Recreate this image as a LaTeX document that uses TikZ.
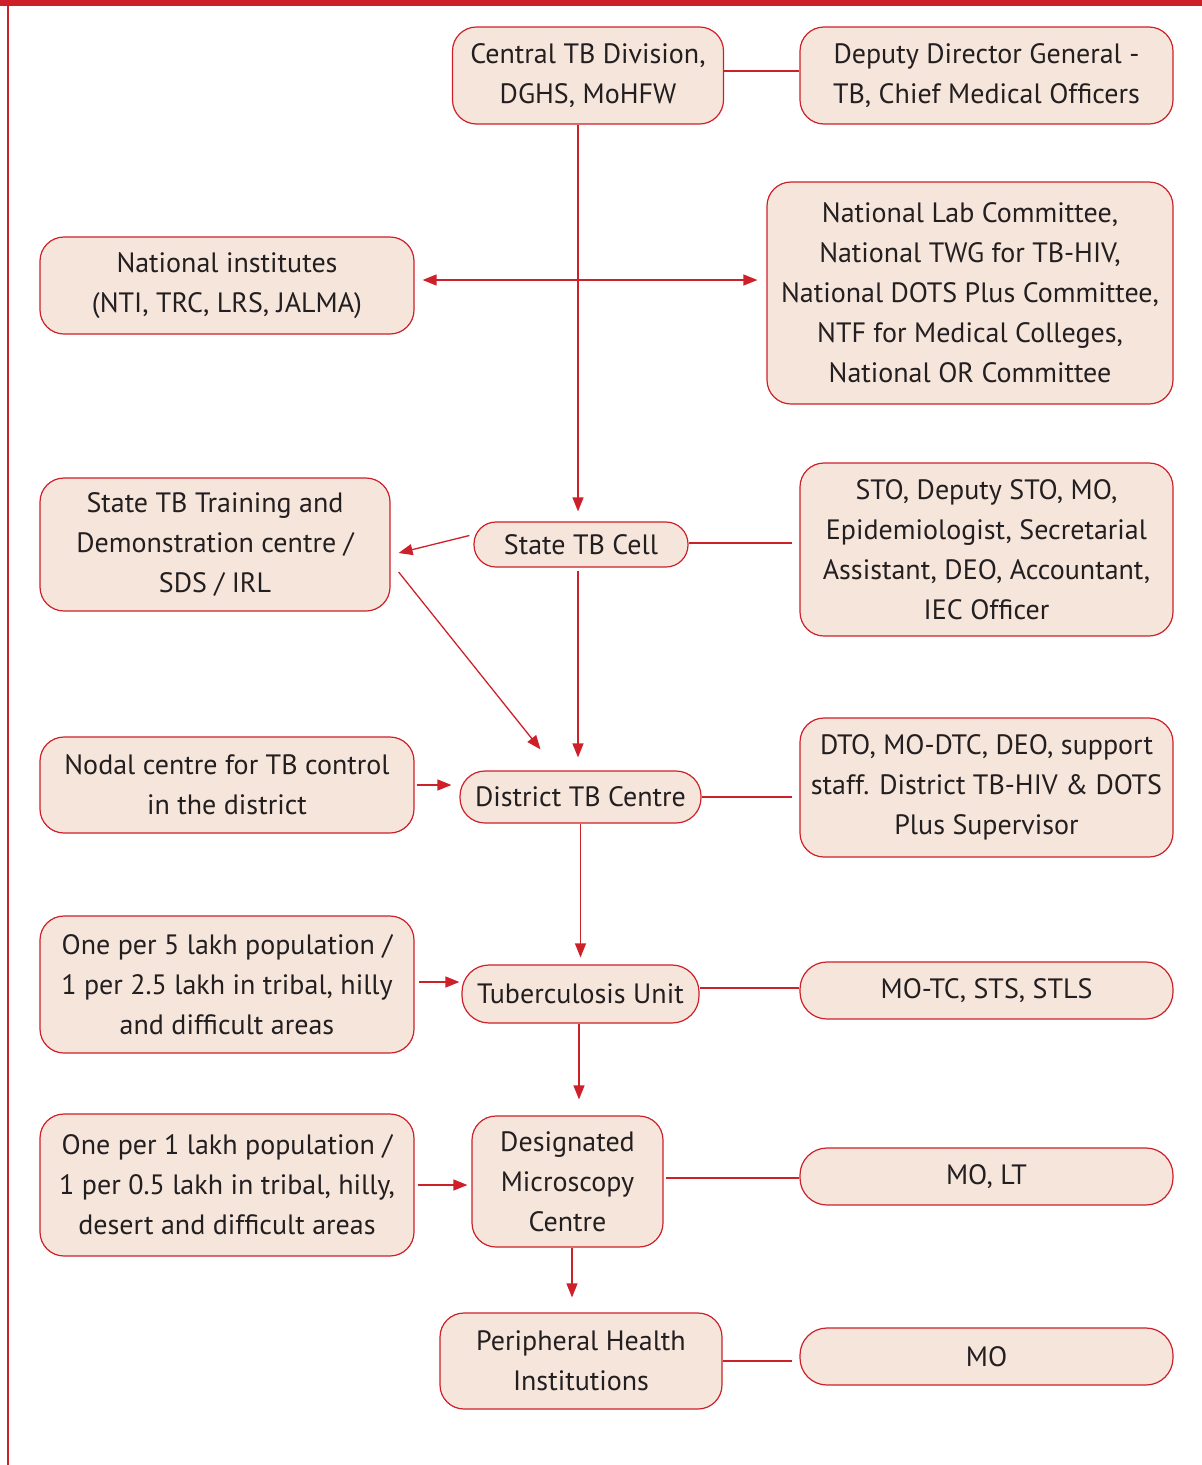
\documentclass[tikz,border=0pt]{standalone}
\usepackage{fontspec}
\setmainfont{PT Sans}
\usepackage{tikz}
\usetikzlibrary{arrows.meta, positioning, calc}
\definecolor{tbred}{RGB}{206, 32, 41}
\definecolor{tbfill}{RGB}{246, 229, 219}
\definecolor{tbtext}{RGB}{35, 31, 32}

\begin{document}
\begin{tikzpicture}[
    x=1pt, y=-1pt,
    entity/.style={draw=tbred, fill=tbfill, line width=1.2pt, rounded corners=24pt, align=center,
        inner sep=0pt, text=tbtext, font=\fontsize{28}{40}\selectfont},
    pill/.style={entity, rounded corners=22pt},
    arrow/.style={-{Triangle[length=14pt, width=11pt]}, draw=tbred, line width=1.3pt},
    link/.style={draw=tbred, line width=1.3pt}
]
    \useasboundingbox (0,0) rectangle (1202,1465);
    % Page frame
    \fill[tbred] (0,0) rectangle (1202,6);
    \draw[tbred, line width=2pt] (7.5,0) -- (7.5,1465);

    % Central column
    \node[entity, minimum width=271pt, minimum height=97pt] (central) at (588,75.5) {Central TB Division,\\DGHS, MoHFW};
    \node[pill, minimum width=214pt, minimum height=45pt] (cell) at (581,544.5) {State TB Cell};
    \node[pill, minimum width=241pt, minimum height=52pt, rounded corners=25pt] (district) at (580.5,797) {District TB Centre};
    \node[pill, minimum width=237pt, minimum height=58pt, rounded corners=27pt] (tu) at (580.5,994) {Tuberculosis Unit};
    \node[entity, minimum width=191pt, minimum height=131pt] (dmc) at (567.5,1181.5) {Designated\\Microscopy\\Centre};
    \node[entity, minimum width=282pt, minimum height=96pt] (phi) at (581,1361) {Peripheral Health\\Institutions};

    % Left column
    \node[entity, minimum width=374pt, minimum height=97pt] (natinst) at (227,285.5) {National institutes\\(NTI, TRC, LRS, JALMA)};
    \node[entity, minimum width=350pt, minimum height=133pt] (training) at (215,544.5) {State TB Training and\\Demonstration centre /\\SDS / IRL};
    \node[entity, minimum width=374pt, minimum height=96pt] (nodal) at (227,785) {Nodal centre for TB control\\in the district};
    \node[entity, minimum width=374pt, minimum height=137pt] (fivelakh) at (227,984.5) {One per 5 lakh population /\\1 per 2.5 lakh in tribal, hilly\\and difficult areas};
    \node[entity, minimum width=374pt, minimum height=142pt] (onelakh) at (227,1185) {One per 1 lakh population /\\1 per 0.5 lakh in tribal, hilly,\\desert and difficult areas};

    % Right column
    \node[entity, minimum width=373pt, minimum height=97pt] (ddg) at (986.5,75.5) {Deputy Director General -\\TB, Chief Medical Officers};
    \node[entity, minimum width=406pt, minimum height=222pt] (committees) at (970,293) {National Lab Committee,\\National TWG for TB-HIV,\\National DOTS Plus Committee,\\NTF for Medical Colleges,\\National OR Committee};
    \node[entity, minimum width=373pt, minimum height=173pt] (sto) at (986.5,549.5) {STO, Deputy STO, MO,\\Epidemiologist, Secretarial\\Assistant, DEO, Accountant,\\IEC Officer};
    \node[entity, minimum width=373pt, minimum height=139pt] (dto) at (986.5,787.5) {DTO, MO-DTC, DEO, support\\staff. District TB-HIV \& DOTS\\Plus Supervisor};
    \node[pill, minimum width=373pt, minimum height=57pt, rounded corners=27pt] (motc) at (986.5,990.5) {MO-TC, STS, STLS};
    \node[pill, minimum width=373pt, minimum height=57pt, rounded corners=27pt] (molt) at (986.5,1176.5) {MO, LT};
    \node[pill, minimum width=373pt, minimum height=57pt, rounded corners=27pt] (mo) at (986.5,1356.5) {MO};

    % Junction on the main line
    \coordinate (junc) at (578,280);

    % Main chain
    \draw[link] (central.east |- 0,71) -- (ddg.west |- 0,71);
    \draw[arrow, shorten >=10pt] (central.south -| junc) -- (junc |- cell.north);
    \draw[arrow, shorten >=8pt] (junc) -- (natinst.east |- junc);
    \draw[arrow, shorten >=9pt] (junc) -- (committees.west |- junc);
    \draw[arrow, shorten <=3pt, shorten >=13pt] (cell.south -| junc) -- (junc |- district.north);
    \draw[arrow, shorten >=7pt] (district.south) -- (tu.north);
    \draw[arrow, shorten >=16pt] (tu.south -| 579,0) -- (dmc.north -| 579,0);
    \draw[arrow, shorten >=15pt] (dmc.south -| 572,0) -- (phi.north -| 572,0);

    % Training centre
    \draw[arrow] ([xshift=-4pt, yshift=9pt]cell.west) -- ([xshift=8pt, yshift=-8.5pt]training.east);
    \draw[arrow] ([xshift=8pt, yshift=-27.5pt]training.east) -- ([xshift=-40pt, yshift=21pt]district.north);

    % Feeders from the left
    \draw[arrow, shorten <=2pt, shorten >=8pt] (nodal.east) -- (nodal.east -| district.west);
    \draw[arrow, shorten <=4pt, shorten >=2pt] (fivelakh.east |- 0,982) -- (tu.west |- 0,982);
    \draw[arrow, shorten <=3pt, shorten >=4pt] (onelakh.east) -- (onelakh.east -| dmc.west);

    % Staff links
    \draw[link, shorten >=7pt] (cell.east |- 0,543) -- (sto.west |- 0,543);
    \draw[link, shorten >=7pt] (district.east) -- (district.east -| dto.west);
    \draw[link] (tu.east |- 0,988) -- (motc.west |- 0,988);
    \draw[link, shorten <=2pt] (dmc.east |- 0,1178) -- (molt.west |- 0,1178);
    \draw[link, shorten >=7pt] (phi.east) -- (phi.east -| mo.west);
\end{tikzpicture}
\end{document}
